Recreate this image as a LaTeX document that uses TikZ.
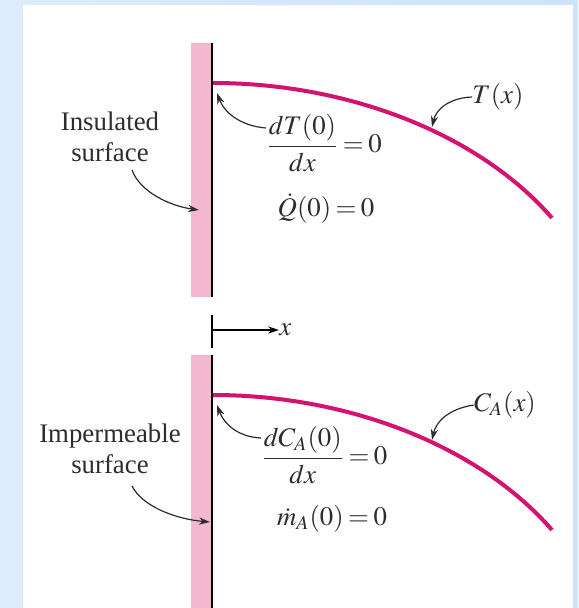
\documentclass[tikz,border=0pt]{standalone}
\usepackage{amsmath}
\usepackage{mathptmx}
\usepackage{fontspec}
\setmainfont{Liberation Serif}
\usetikzlibrary{arrows.meta}

\definecolor{frameblue}{RGB}{221,236,251}
\definecolor{frameblue2}{RGB}{204,227,250}
\definecolor{wallpink}{RGB}{243,184,208}
\definecolor{profile}{RGB}{212,18,112}
\definecolor{inkgray}{RGB}{45,45,45}

\thickmuskip=3mu\relax

\tikzset{
    wall/.style={fill=wallpink, draw=none},
    face/.style={line width=1pt, black},
    curveline/.style={line width=2pt, profile},
    callout/.style={-{Stealth[length=5.5pt,width=3.6pt]}, line width=0.6pt, inkgray},
    lbl/.style={font=\fontsize{13.4}{15.5}\selectfont, text=inkgray, inner sep=0pt}
}

\begin{document}
\begin{tikzpicture}[x=0.5pt, y=-0.5pt]
    \useasboundingbox (0,0) rectangle (578,608);
    % frame
    \fill[left color=frameblue, right color=frameblue2] (0,0) rectangle (578,608);
    \fill[white] (23,5) rectangle (573,608);

    % upper wall (insulated)
    \fill[wall] (191,43) rectangle (211,297);
    \draw[face] (212,43) -- (212,297);
    \draw[curveline] (213,83) .. controls (350,83) and (480,135) .. (552,218);

    % x axis mark
    \draw[face] (212,315) -- (212,348);
    \coordinate (xo) at (212,330);
    \node[lbl, anchor=west] (xlab) at (279,330) {$x$};
    \draw[-{Stealth[length=5.5pt,width=3.6pt]}, line width=0.6pt, black] (xo) -- (xlab.west);

    % lower wall (impermeable)
    \fill[wall] (191,355) rectangle (211,608);
    \draw[face] (212,355) -- (212,608);
    \draw[curveline] (213,395) .. controls (350,395) and (480,447) .. (552,530);

    % labels, upper part
    \node[lbl] (Tx) at (498,97) {$T(x)$};
    \coordinate (Ttip) at (432,127);
    \draw[callout] (Tx.west) .. controls (448,98) and (436,110) .. (Ttip);

    \node[lbl, align=center] (ins) at (110,137) {Insulated\\surface};
    \coordinate (instip) at (199,210);
    \draw[callout] (132,170) .. controls (140,192) and (170,206) .. (instip);

    \node[lbl, anchor=west] (dT) at (266,143) {$\dfrac{dT(0)}{dx} = 0$};
    \coordinate (dTtip) at (217,93);
    \draw[callout] (dT.west) ++(0,-15) .. controls (240,126) and (224,112) .. (dTtip);

    \node[lbl] (Qd) at (326,208) {$\dot{Q}(0) = 0$};

    % labels, lower part
    \node[lbl] (CAx) at (505,405) {$C_A(x)$};
    \coordinate (CAtip) at (432,440);
    \draw[callout] (CAx.west) .. controls (448,409) and (436,422) .. (CAtip);

    \node[lbl, align=center] (imp) at (110,449) {Impermeable\\surface};
    \coordinate (imptip) at (210,522);
    \draw[callout] (132,486) .. controls (142,506) and (175,519) .. (imptip);

    \node[lbl, anchor=west] (dC) at (261,455) {$\dfrac{dC_A(0)}{dx} = 0$};
    \coordinate (dCtip) at (217,405);
    \draw[callout] (dC.west) ++(0,-17) .. controls (238,437) and (224,424) .. (dCtip);

    \node[lbl] (md) at (332,519) {$\dot{m}_A(0) = 0$};
\end{tikzpicture}
\end{document}
